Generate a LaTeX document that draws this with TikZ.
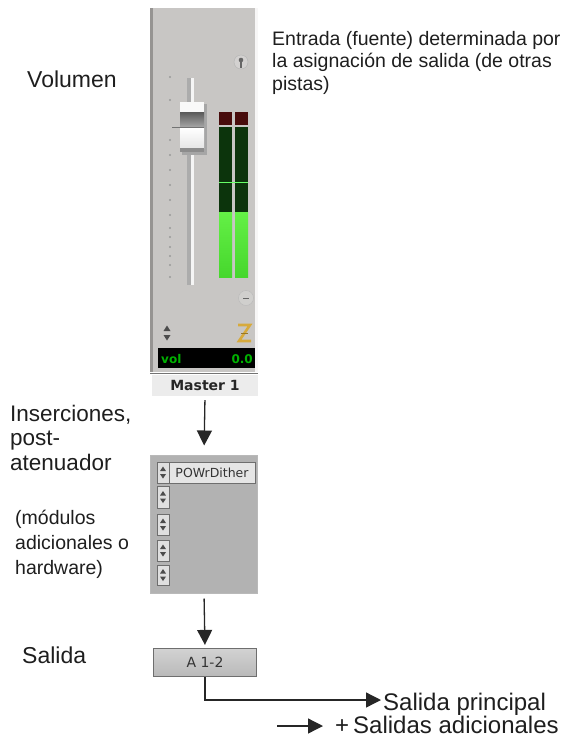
\documentclass[tikz,border=0pt]{standalone}
\usepackage{fontspec}
\setmainfont{Liberation Sans}
\newfontfamily\uifont{DejaVu Sans}
\usetikzlibrary{arrows.meta}
\definecolor{stripbg}{RGB}{200,198,196}
\definecolor{stripedge}{RGB}{150,148,146}
\definecolor{panelbg}{RGB}{178,178,178}
\definecolor{paneledge}{RGB}{110,110,110}
\definecolor{meterred}{RGB}{72,12,12}
\definecolor{meterdark}{RGB}{12,52,12}
\definecolor{meterlite}{RGB}{70,215,45}
\definecolor{meterlite2}{RGB}{100,240,70}
\definecolor{txtgray}{RGB}{30,30,30}
\definecolor{zgold}{RGB}{215,170,60}
\begin{document}
\begin{tikzpicture}[x=1pt,y=-1pt,
  lbl/.style={inner sep=0, anchor=base west, text=txtgray, font=\fontsize{23}{25}\selectfont},
  smalllbl/.style={inner sep=0, anchor=base west, text=txtgray, align=left, font=\fontsize{19.5}{25}\selectfont},
  toplbl/.style={inner sep=0, anchor=base west, text=txtgray, align=left, font=\fontsize{19.5}{22.5}\selectfont},
  outlbl/.style={inner sep=0, anchor=base west, text=txtgray, font=\fontsize{24}{26}\selectfont},
  arr/.style={line width=1.3pt, draw=black!85, -{Triangle[length=15pt,width=15pt]}},
  toggle/.style={draw=paneledge, fill=gray!25, line width=0.8pt},
  tri/.style={fill=black!70}
]
\useasboundingbox (0,0) rectangle (565,737);

% ---------- channel strip ----------
\fill[stripbg] (150,8) rectangle (258,372);
\fill[stripedge] (150,8) rectangle (153,372);
\fill[white!85!stripbg] (255,8) rectangle (258,372);

% knob icon
\draw[gray!60, fill=stripbg!80!white] (241,62) circle (7);
\fill[black!60] (241,60) circle (2.3);
\draw[black!60, line width=1.2pt] (241,60) -- (241,68);

% fader tick dots
\foreach \ty in {77,100,140,155,170,185,200,215,228,237,247,256,265,277}
  \fill[gray!80] (170,\ty) circle (1.1);

% fader track
\fill[gray!65] (187,78) rectangle (191,285);
\fill[white!92!gray] (191,78) rectangle (194,285);

% fader cap
\fill[black!35] (182,104) rectangle (207,155);
\fill[white!95!gray] (180,102) rectangle (204,112);
\shade[top color=black!65, bottom color=black!35] (180,112) rectangle (204,127);
\shade[top color=white, bottom color=white!80!gray] (180,128) rectangle (204,148);
\fill[black!45] (180,148) rectangle (204,152);
\draw[black!55, line width=0.8pt] (172,127.5) -- (204,127.5);

% meters
\foreach \mx in {219,235}{
  \fill[meterred] (\mx,112) rectangle ++(13,13);
  \fill[meterdark] (\mx,127) rectangle ++(13,85);
  \shade[top color=meterlite2, bottom color=meterlite] (\mx,212) rectangle ++(13,65);
}
\draw[green!60!white, line width=0.8pt] (219,182.5) -- (248,182.5);

% minus circle
\draw[gray!55, fill=stripbg!85!white] (246,298) circle (7.5);
\draw[black!60, line width=1pt] (243,298) -- (249,298);

% up/down icon
\fill[tri] (163.5,331) -- (170.5,331) -- (167,325.5) -- cycle;
\fill[tri] (163.5,335) -- (170.5,335) -- (167,340.5) -- cycle;

% Z icon
\draw[zgold, line width=2.6pt, line join=miter] (238,325) -- (250,325) -- (239,341) -- (251,341);
\draw[zgold!70!black, line width=0.8pt] (241,333) -- (248,333);

% vol display
\fill[black] (158,348) rectangle (255,368);
\node[inner sep=0, anchor=base west, text=green!70!black, font=\uifont\bfseries\fontsize{12}{14}\selectfont] (volt) at (161,363) {vol};
\node[inner sep=0, anchor=base east, text=green!70!black, font=\uifont\bfseries\fontsize{12}{14}\selectfont] (volv) at (253,363) {0.0};

% Master 1
\draw[black!55, line width=1pt] (150,373) -- (258,373);
\node (master) [fill=white!85!gray, minimum width=106pt, minimum height=21pt, inner sep=0,
  font=\uifont\bfseries\fontsize{14}{16}\selectfont, text=black!85] at (205,385.5) {Master 1};

% ---------- inserts panel ----------
\node (inserts) [fill=panelbg, draw=gray!55, line width=1pt, minimum width=107pt, minimum height=138pt, inner sep=0] at (204,524) {};
\foreach \ya/\yb in {462/483,486/508,514/535,540/561,565/585}{
  \draw[toggle] (157,\ya) rectangle (169,\yb);
  \pgfmathsetmacro{\ym}{(\ya+\yb)/2}
  \fill[tri] (160,\ym-1.5) -- (166,\ym-1.5) -- (163,\ym-6) -- cycle;
  \fill[tri] (160,\ym+1.5) -- (166,\ym+1.5) -- (163,\ym+6) -- cycle;
}
\node (pow) [draw=paneledge, line width=0.8pt, fill=gray!20, minimum width=86pt, minimum height=21pt, inner sep=0,
  font=\uifont\fontsize{12.5}{14}\selectfont, text=black!80] at (212,472.5) {POWrDither};

% ---------- output box ----------
\node (outbox) [top color=gray!35, bottom color=gray!55, draw=paneledge, line width=1.2pt, minimum width=103pt, minimum height=28pt, inner sep=0,
  font=\uifont\fontsize{14}{16}\selectfont, text=black!80] at (205,662.5) {A 1-2};

% ---------- arrows ----------
\draw[arr, shorten <=4pt, shorten >=9pt] (master.south) -- (inserts.north);
\draw[arr, shorten <=5pt, shorten >=3pt] (inserts.south) -- (outbox.north);

% ---------- labels ----------
\node[lbl] (vol) at (27,87) {Volumen};
\node[toplbl] (entrada) at (272,90) {Entrada (fuente) determinada por\\la asignación de salida (de otras\\pistas)};
\node[lbl, align=left, font=\fontsize{22.5}{24.5}\selectfont] (ins) at (10,470) {Inserciones,\\post-\\atenuador};
\node[smalllbl] (mod) at (15,574) {(módulos\\adicionales o\\hardware)};
\node[lbl] (sal) at (22,663) {Salida};

\node[outlbl] (mainlbl) at (383,710) {Salida principal};
\node[outlbl] (addlbl) at (335,733) {+\,Salidas adicionales};
\coordinate (addstart) at (277,726);

\draw[line width=1.3pt, draw=black!85, -{Triangle[length=15pt,width=15pt]}, shorten >=2pt]
  (outbox.south) |- ([yshift=10pt]mainlbl.base west);
\draw[arr, shorten >=12pt] (addstart) -- ([yshift=7pt]addlbl.base west);
\end{tikzpicture}
\end{document}
